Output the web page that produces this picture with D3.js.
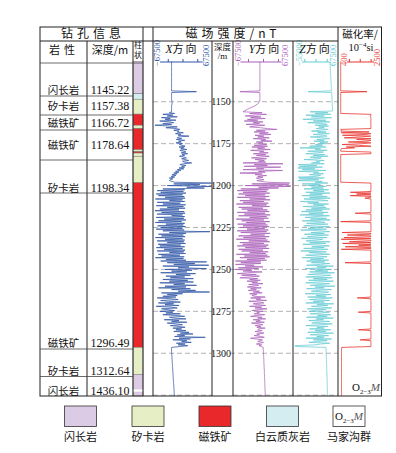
<!DOCTYPE html>
<html><head><meta charset="utf-8">
<script src="https://cdn.jsdelivr.net/npm/d3@7"></script>
<style>body{margin:0;background:#fff}</style>
</head><body><svg id="c" width="396" height="453"></svg>
<script>
// ---------------- DATA ----------------
// depth sampling grid (m): 1126 .. 1325.5 step 0.5
const depthStart = 1126, depthEnd = 1325.5, depthStep = 0.5;
const depthTicks = [1150, 1175, 1200, 1225, 1250, 1275, 1300];
const gridDepths = [1150, 1175, 1200, 1225, 1250, 1275, 1300, 1325];

// X-component magnetic field (×1000 nT)
const xField = [
-25,-25,-25,-25,-25,-25,-25,-25,-25,-25,-25,-25,-25,-25,-25,-25,-25,-25,-25,-25,
-25,-25,-25,-25,-25,-25,-25,-25,-25,-25,-25,-25,-25,-25,-25,-25,32,-25,-25,-25,
-25,-25,-25,-25,-25,-25,-25,-24,-24,-24,-24,-24,-25,-25,-25,-25,-25,-25,-25,-25,
-25,-30,-18,-45,-22,-35,-12,-48,-28,-40,-15,-52,-30,-20,-45,-25,-63,-30,-12,-38,
-14,-6,-20,-8,-12,2,-16,-4,-10,15,-8,-12,-2,-14,5,-9,-3,-15,0,-7,
-2,6,-8,4,-4,10,-6,2,8,-3,12,-1,5,-7,3,9,-2,6,14,0,
4,21,2,-6,8,-2,5,-8,3,-12,-4,-16,-8,-20,-12,-24,-15,-26,-18,-30,
-22,-28,-30,-24,-18,66,-20,40,-35,66,10,50,-45,5,-58,2,-50,8,-60,0,
-55,4,-40,6,-62,0,-30,5,-58,-5,-45,7,-60,2,-35,6,-52,-8,-63,4,
-48,6,-58,0,-25,5,-60,3,-42,8,-55,-2,-62,5,-38,2,-57,7,-50,0,
-60,4,-45,63,-30,8,-55,2,-48,6,-62,0,-40,5,-58,3,-35,7,-56,-4,
-52,5,-60,0,-42,6,-58,3,-30,7,-55,-6,-48,4,-62,2,-38,8,-50,55,
-35,28,-20,60,-45,15,-10,55,-40,22,-25,10,-50,30,-15,18,-38,5,-28,25,
-45,12,-30,25,-52,5,-20,32,-40,8,-55,18,-25,30,-10,62,-48,0,-35,-12,
-45,-15,-58,-25,-10,-50,-32,-5,-55,-20,-40,-8,-60,-28,-12,-48,-35,-18,-52,-22,
-38,-5,-45,-12,5,-30,-20,8,-42,-8,-25,10,-35,-15,0,-28,-10,6,-22,-2,
-15,8,-20,15,-5,24,-12,5,-18,52,-8,18,-22,10,-2,20,-14,6,-10,12,
-6,-25,-25,-25,-25,-25,-25,-25,-24.5,-24.5,-24.5,-24.5,-24,-24,-24,-24,-24,-23.5,-23.5,-23.5,
-23.5,-23,-23,-23,-23,-22.5,-22.5,-22.5,-22.5,-22,-22,-22,-22,-21.5,-21.5,-21.5,-21.5,-21,-21,-21,
-21,-20.5,-20.5,-20.5,-20.5,-20,-20,-20,-20,-19.5,-19.5,-19.5,-19.5,-19,-19,-19,-19,-18.5,-18.5,-18.5
];

// Y-component magnetic field (×1000 nT)
const yField = [
-7,-7,-7,-7,-7,-7,-7,-7,-7,-7,-7,-7,-7,-7,-7,-7,-7,-7,-7,-7,
-7,-7,-7,-7,-7,-7,-7,-7,-7,-7,-7,-7,-7,-7,-7,-7,-52,-7,-7,-7,
-7,-7,-7,-7,-7,-7,-7,-7,-8,-9,-11,-13,-16,-19,-23,-27,-31,-35,-38,-42,
-45,-2,-30,8,-20,-40,-5,-28,5,-35,-12,-42,0,-22,-8,-38,4,-18,-30,-6,
10,31,-15,5,-20,12,-8,18,-18,2,-12,14,-22,6,-5,20,-15,0,-10,8,
-20,10,-25,4,-12,16,-28,2,-8,12,-22,6,-15,14,-5,-26,8,-18,3,-10,
6,-45,45,-20,10,-42,40,-15,2,-45,44,-10,5,-52,-2,-18,8,-12,0,-15,
-8,2,-14,-5,10,60,-25,58,-40,62,-10,35,-50,12,-58,8,-45,15,-55,5,
-40,14,-58,6,-30,16,-52,2,-45,12,-60,8,-25,15,-55,0,-48,10,-35,14,
-58,5,-42,16,-55,8,-30,12,-60,2,-48,15,-38,6,-57,10,-45,14,-52,4,
-36,12,-58,8,-50,16,-28,4,-55,14,-44,6,-60,10,-32,15,-52,2,-46,12,
-58,8,-40,14,-55,0,-48,12,-30,6,-60,10,-42,15,-52,4,-36,8,-62,-5,
-50,-5,-62,-20,-40,0,-55,-10,-63,-25,-45,-2,-35,-58,-15,-48,-8,-30,-52,-12,
-30,-6,-36,-12,-25,0,-32,-10,-20,-35,-4,-28,-15,-33,-8,-22,-2,-30,-14,-25,
-20,5,-28,-5,-15,8,-32,-8,2,-22,-12,6,-30,-3,-18,9,-10,-25,0,-14,
-8,-20,4,-15,-28,-2,-12,6,-22,-6,-16,3,-26,-9,0,-18,-5,-14,5,-10,
-12,-2,-18,-6,2,-14,-8,-20,-4,3,-28,-16,-1,-8,-12,1,-6,-15,-3,-9,
-4,0.5,0.5,0.5,0.5,1,1,1,1,1,1.5,1.5,1.5,1.5,1.5,2,2,2,2,2,
2,2,2.5,2.5,2.5,2.5,2.5,3,3,3,3,3,3,3.5,3.5,3.5,3.5,3.5,3.5,4,
4,4,4,4,4,4,4,4.5,4.5,4.5,4.5,4.5,4.5,4.5,5,5,5,5,5,5
];

// Z-component magnetic field (×1000 nT)
const zField = [
45.5,45.5,45.5,46,46,46,46,46.5,46.5,46.5,46.5,47,47,47,47,47.5,47.5,47.5,47.5,48,
48,48,48,48.5,48.5,48.5,48.5,49,49,49,49,49.5,49.5,49.5,49.5,50,-14,50,50.5,50.5,
50.5,50.5,51,51,51,51,51.5,51.5,51.5,51.5,52,52,52,52,52.5,52.5,52.5,53,53,53,
-9,40,5,48,-20,30,-5,50,10,-28,35,0,45,-15,25,38,5,42,15,30,
8,40,20,-5,35,12,44,0,28,38,-8,22,45,10,30,2,40,18,34,6,
25,-10,35,-36,20,5,38,-15,28,10,-20,32,0,40,-8,22,12,-25,30,8,
18,-5,30,-41,10,-38,25,-42,5,-30,35,-40,15,0,28,-10,20,8,-41,30,
-38,15,-42,25,5,40,-30,20,-15,35,-5,28,-25,42,0,30,-20,45,-10,25,
-30,38,-10,46,-25,20,40,-35,15,-15,42,0,30,-28,35,-5,45,-20,25,-32,
40,-12,28,-36,44,5,-22,36,-8,46,-30,18,32,-18,40,0,-26,44,10,-14,
36,-34,22,45,-6,30,-24,42,2,-16,38,-32,26,10,-20,46,-10,34,-28,15,
44,-4,30,-26,40,8,-34,36,-12,22,45,-20,12,38,-30,28,-8,42,-18,32,
-5,45,20,-18,55,10,35,-22,50,5,40,-10,58,15,-15,48,25,-20,52,0,
38,-12,55,12,-20,45,22,-8,59,5,30,-18,50,15,-5,42,28,-22,48,8,
35,-15,52,18,-10,45,0,30,-20,56,10,40,-5,25,50,-16,35,5,-12,44,
20,-8,48,12,38,-18,55,8,28,-12,45,15,-4,52,22,-20,40,10,30,-10,
48,5,35,-15,55,18,-8,42,10,30,-20,50,0,38,12,-12,45,20,5,-50,
-48,35,35,35,35,35,35.5,35.5,35.5,35.5,35.5,35.5,36,36,36,36,36,36,36,36.5,
36.5,36.5,36.5,36.5,36.5,37,37,37,37,37,37,37,37.5,37.5,37.5,37.5,37.5,37.5,37.5,38,
38,38,38,38,38,38,38,38,38.5,38.5,38.5,38.5,38.5,38.5,38.5,38.5,38.5,38.5,38.5,38.5
];

// magnetic susceptibility (10^-4 SI)
const susc = [
530,530,530,530,530,530,530,530,530,530,530,530,530,530,530,530,530,530,530,530,
530,530,530,530,530,530,530,530,530,530,530,530,530,530,530,530,1800,530,530,530,
530,530,530,530,530,530,530,530,530,530,530,530,530,530,530,530,530,530,530,530,
530,530,530,1990,1980,1990,1950,1990,1985,1990,1990,1970,1990,1990,1985,1990,1990,1990,1980,1990,
1990,530,580,530,1900,560,1990,1750,620,1980,1500,700,1990,1300,1990,1850,900,1990,1600,600,
1400,1990,800,1200,560,540,530,530,1990,1990,1990,530,530,530,530,530,530,530,530,530,
530,530,530,530,530,530,530,530,530,530,530,530,530,530,530,530,530,530,530,530,
530,530,530,530,530,1990,1990,1990,1990,1990,1990,1990,1990,1980,1990,1990,1000,1990,1300,1990,
990,1990,1990,1700,1990,1990,1990,1990,1990,1990,1990,1990,1990,1990,1990,1990,1990,1990,1990,1990,
1990,1230,1990,1990,1990,1990,1990,1990,1990,1990,1990,530,1990,1990,1990,1990,1990,1990,1990,1990,
1990,1990,1990,1990,600,1990,1990,850,1990,1990,700,1990,560,1990,1990,950,1990,620,1990,1400,
1990,750,1990,1990,560,1990,1990,1990,1990,1990,1990,1990,1990,1990,1990,1990,1990,1990,1990,1990,
740,1990,1990,1990,1990,1990,1990,1990,1990,1990,1990,1990,1990,1990,1990,1990,1990,1990,1990,1990,
1990,1990,1990,1990,1990,1990,1990,1990,1990,1990,1990,1990,1990,1990,1990,1990,1990,1990,1990,1990,
1990,1990,1330,1990,1990,1990,1990,1990,1990,1990,1990,1990,1990,1990,1990,1990,1990,1990,1990,1380,
1990,1990,1990,1990,1990,1990,1990,1990,1990,1990,1990,1990,1990,1990,1990,1990,1990,1990,1990,1990,
1380,1990,1990,1990,1990,1990,1990,1990,1990,1990,1990,1990,1470,1990,1990,1990,1990,1990,1990,1990,
1990,580,580,570,570,570,570,570,570,570,570,570,570,570,570,570,570,570,570,570,
570,570,570,570,570,570,570,570,570,570,570,570,570,570,570,570,570,570,570,570,
570,570,570,570,570,570,570,570,570,570,570,570,570,570,570,570,570,570,570,570
];

// axis domains and tick labels
const xDomain = [-67.5, 67.5], yDomain = [-67.5, 67.5], zDomain = [-55, 67.5], sDomain = [400, 2500];
const xTickLabels = ["\u221267500", "67500"];
const yTickLabels = ["\u221267500", "67500"];
const zTickLabels = ["\u221255000", "67500"];
const sTickLabels = ["400", "2500"];

// borehole information table
const tableRocks = ["闪长岩", "矽卡岩", "磁铁矿", "磁铁矿", "矽卡岩", "磁铁矿", "矽卡岩", "闪长岩"];
const tableDepths = ["1145.22", "1157.38", "1166.72", "1178.64", "1198.34", "1296.49", "1312.64", "1436.10"];

// lithologic column (depth intervals)
const layerTop    = [1126, 1145.22, 1148.5, 1157.38, 1164, 1166, 1178.64, 1179.8, 1180.6, 1182.5, 1198.34, 1296.49, 1312.64];
const layerBottom = [1145.22, 1148.5, 1157.38, 1164, 1166, 1178.64, 1179.8, 1180.6, 1182.5, 1198.34, 1296.49, 1312.64, 1325.5];
const layerRock   = ["闪长岩", "白云质灰岩", "矽卡岩", "磁铁矿", "矽卡岩", "磁铁矿", "矽卡岩", "磁铁矿", "矽卡岩", "矽卡岩", "磁铁矿", "矽卡岩", "闪长岩"];

const legendNames = ["闪长岩", "矽卡岩", "磁铁矿", "白云质灰岩", "马家沟群"];

// ---------------- STYLE / LAYOUT ----------------
const rockColor = {"闪长岩": "#dccbe4", "矽卡岩": "#e6eec6", "磁铁矿": "#e8282a", "白云质灰岩": "#d3edf1", "马家沟群": "#ffffff"};
const colX = "#2d54a6", colY = "#a95fba", colZ = "#66cbd4", colS = "#e9352d";
const CJK = "'Noto Sans CJK SC', 'Noto Sans', sans-serif";
const SERIF = "'Liberation Serif', 'DejaVu Serif', serif";

const Lft = 40, Rgt = 381.5, Top = 27, Row1 = 41, Head = 63, AxisY = 62, Bot = 396;
const cName = 87, cDep = 133, cCol = 143, xL = 153, xR = 212, dR = 233, yR = 293, zR = 338;
const tableRowLines = [63, 96, 115, 130, 160, 193, 349, 376.5, 396];
const tableLabelY = [89.5, 106, 122.5, 145, 187.5, 343, 370.5, 390.5];

const svg = d3.select("#c");
svg.append("rect").attr("width", 396).attr("height", 453).attr("fill", "#fff");

const yS = d3.scaleLinear().domain([depthStart, depthEnd]).range([61.5, 396]);
const xXs = d3.scaleLinear().domain(xDomain).range([xL, xR]);
const xYs = d3.scaleLinear().domain(yDomain).range([dR, yR]);
const xZs = d3.scaleLinear().domain(zDomain).range([yR, zR]);
const xSs = d3.scaleLinear().domain(sDomain).range([zR, Rgt]);
const depthOf = i => depthStart + i * depthStep;

// lithologic column
const lith = svg.append("g");
layerRock.forEach((r, i) => {
  lith.append("rect").attr("x", cDep).attr("width", cCol - cDep)
    .attr("y", yS(layerTop[i])).attr("height", yS(layerBottom[i]) - yS(layerTop[i]))
    .attr("fill", rockColor[r]).attr("stroke", "#777").attr("stroke-width", 0.5);
});
// break mark near bottom
lith.append("rect").attr("x", cDep - 0.5).attr("width", cCol - cDep + 1)
  .attr("y", yS(1321.6)).attr("height", 2.2).attr("fill", "#fff");

// grid dashed lines
const grid = svg.append("g").attr("stroke", "#b3b3b3").attr("stroke-width", 1).attr("stroke-dasharray", "5,3");
gridDepths.forEach(d => {
  grid.append("line").attr("x1", xL).attr("x2", xR).attr("y1", yS(d)).attr("y2", yS(d));
  grid.append("line").attr("x1", d === 1325 ? dR : 230).attr("x2", zR).attr("y1", yS(d)).attr("y2", yS(d));
});
// depth labels
svg.append("g").selectAll("text").data(depthTicks).join("text")
  .attr("x", 221).attr("y", d => yS(d) + 3.5).attr("text-anchor", "middle")
  .attr("font-family", SERIF).attr("font-size", 10).attr("fill", "#111").text(d => d);

// curves
function curve(values, xs, color, w) {
  const line = d3.line().x(v => xs(v)).y((v, i) => yS(depthOf(i)));
  svg.append("path").datum(values).attr("d", line).attr("fill", "none")
    .attr("stroke", color).attr("stroke-width", w).attr("stroke-linejoin", "round");
}
curve(xField, xXs, colX, 0.75);
curve(yField, xYs, colY, 0.75);
curve(zField, xZs, colZ, 0.75);
curve(susc, xSs, colS, 0.8);

// top axes with tick marks and rotated end labels
function topAxis(xs, color, labels, lx, rx) {
  const d = xs.domain();
  const ticks = [0.25, 0.5, 0.75].map(f => d[0] + f * (d[1] - d[0]));
  const ax = d3.axisTop(xs).tickValues(ticks).tickSize(3).tickSizeOuter(0).tickFormat("");
  const g = svg.append("g").attr("transform", `translate(0,${AxisY})`).call(ax);
  g.select(".domain").attr("stroke", color).attr("d", `M${lx + 3},0H${rx - 3}`);
  g.selectAll(".tick line").attr("stroke", color);
  [[lx, labels[0]], [rx, labels[1]]].forEach(([x, t]) => {
    svg.append("text").attr("transform", `translate(${x + 3},${AxisY + 4}) rotate(-90)`)
      .attr("font-family", SERIF).attr("font-size", 8.5).attr("fill", color).text(t);
  });
}
topAxis(xXs, colX, xTickLabels, 157, 205.5);
topAxis(xYs, colY, yTickLabels, 237.5, 284.5);
topAxis(xZs, colZ, zTickLabels, 299, 332.5);
topAxis(xSs, colS, sTickLabels, 344, 377);

// frame lines
const fr = svg.append("g").attr("stroke", "#222").attr("stroke-width", 1).attr("fill", "none");
fr.append("rect").attr("x", Lft).attr("y", Top).attr("width", Rgt - Lft).attr("height", Bot - Top);
fr.append("line").attr("x1", Lft).attr("x2", zR).attr("y1", Row1).attr("y2", Row1);
[[cName, Row1], [cDep, Row1], [cCol, Top], [xL, Top], [xR, Row1], [dR, Row1], [yR, Row1], [zR, Top]]
  .forEach(([x, y0]) => fr.append("line").attr("x1", x).attr("x2", x).attr("y1", y0).attr("y2", Bot));
const tl = svg.append("g").attr("stroke", "#444").attr("stroke-width", 0.8);
tableRowLines.slice(0, -1).forEach((y, i) => {
  tl.append("line").attr("x1", Lft).attr("x2", i === 0 ? cCol : cDep).attr("y1", y).attr("y2", y);
});

// table texts
const tx = svg.append("g");
tableRocks.forEach((r, i) => {
  tx.append("text").attr("x", 63.5).attr("y", tableLabelY[i] + 4).attr("text-anchor", "middle")
    .attr("font-family", CJK).attr("font-size", 10.5).attr("fill", "#111").text(r);
  tx.append("text").attr("x", 110).attr("y", tableLabelY[i] + 4.2).attr("text-anchor", "middle")
    .attr("font-family", SERIF).attr("font-size", 12).attr("fill", "#111").text(tableDepths[i]);
});

// headers
function txt(x, y, s, size, fam, opts = {}) {
  const t = svg.append("text").attr("x", x).attr("y", y).attr("text-anchor", opts.anchor || "middle")
    .attr("font-family", fam).attr("font-size", size).attr("fill", "#111");
  if (opts.ls) t.attr("letter-spacing", opts.ls);
  t.text(s);
  return t;
}
txt(93, 38, "钻孔信息", 12, CJK, {ls: 4});
txt(233, 38, "磁场强度/nT", 12, CJK, {ls: 4});
txt(64, 54, "岩性", 11, CJK, {ls: 4});
txt(110, 54, "深度/m", 11, CJK);
txt(138, 47.5, "柱", 8, CJK);
txt(138, 57.5, "状", 8, CJK);
txt(222.5, 50, "深度", 8.5, CJK);
txt(222.5, 59, "/m", 9, SERIF);
txt(360, 38, "磁化率/", 10.5, CJK);
const si = svg.append("text").attr("x", 361).attr("y", 51).attr("text-anchor", "middle")
  .attr("font-family", SERIF).attr("font-size", 10.5).attr("fill", "#111");
si.append("tspan").text("10");
si.append("tspan").attr("dy", -4).attr("font-size", 7).text("\u22124");
si.append("tspan").attr("dy", 4).text("si");
function dirLabel(x, letter) {
  const t = svg.append("text").attr("x", x).attr("y", 53).attr("text-anchor", "middle").attr("fill", "#111");
  t.append("tspan").attr("font-family", SERIF).attr("font-style", "italic").attr("font-size", 11.5).text(letter);
  t.append("tspan").attr("font-family", CJK).attr("font-size", 11).attr("letter-spacing", 2).text("方向");
}
dirLabel(182, "X");
dirLabel(265, "Y");
dirLabel(315.5, "Z");

// formation symbol
function formation(x, y, size) {
  const t = svg.append("text").attr("x", x).attr("y", y).attr("text-anchor", "middle")
    .attr("font-family", SERIF).attr("font-size", size).attr("fill", "#111");
  t.append("tspan").text("O");
  t.append("tspan").attr("dy", 2.5).attr("font-size", size * 0.62).text("2\u22123");
  t.append("tspan").attr("dy", -2.5).attr("font-style", "italic").attr("fill", "#555").text("M");
}
formation(366, 391, 11);

// legend
const legX = [80.5, 148, 215, 282.5, 349];
legendNames.forEach((n, i) => {
  svg.append("rect").attr("x", legX[i] - 16).attr("y", 406).attr("width", 32).attr("height", 20.5)
    .attr("fill", rockColor[n]).attr("stroke", "#333").attr("stroke-width", 0.8);
  txt(legX[i], 441, n, 11, CJK);
});
formation(349, 420, 11);
</script></body></html>
